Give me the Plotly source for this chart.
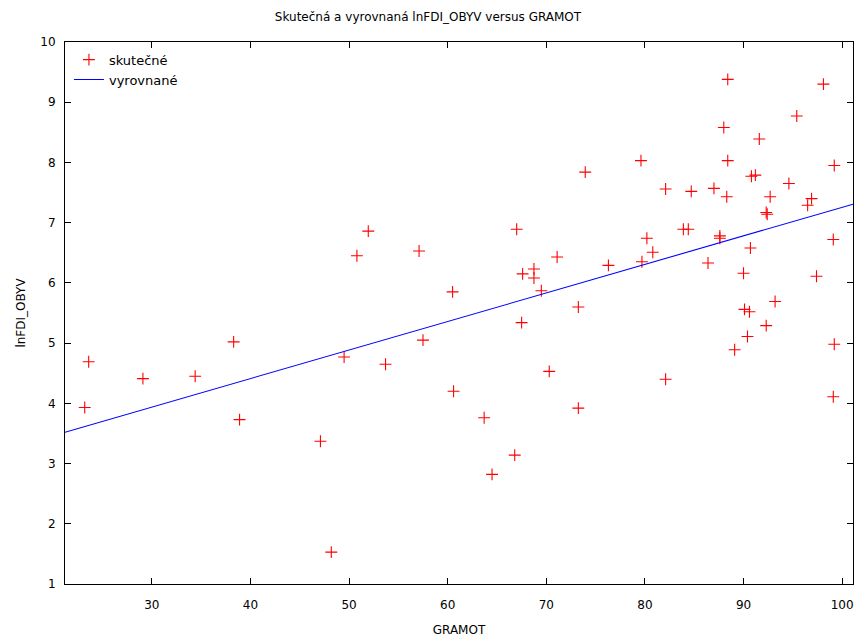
import plotly.graph_objects as go
import numpy as np

# Observed data (GRAMOT vs lnFDI_OBYV)
gramot = [23.2, 23.6, 29.1, 34.4, 38.3, 38.9, 47.1, 48.2, 49.5, 50.8,
          51.95, 53.7, 57.1, 57.5, 60.5, 60.6, 63.7, 64.5, 66.8, 67.0,
          67.6, 67.5, 68.75, 68.75, 69.5, 70.3, 71.1, 73.25, 73.25, 73.95,
          76.3, 79.6, 79.7, 80.2, 80.8, 82.1, 82.1, 83.9, 84.4, 84.7,
          86.4, 87.0, 87.6, 87.6, 88.0, 88.3, 88.4, 88.4, 89.1, 90.0,
          90.1, 90.4, 90.6, 90.7, 90.8, 91.2, 91.6, 92.3, 92.4, 92.3,
          92.7, 93.2, 94.6, 95.4, 96.5, 96.9, 97.4, 98.1, 99.1, 99.2,
          99.2, 99.1]
lnfdi = [3.93, 4.69, 4.41, 4.45, 5.02, 3.73, 3.37, 1.53, 4.77, 6.45,
         6.86, 4.65, 6.53, 5.05, 5.85, 4.20, 3.76, 2.82, 3.14, 6.89,
         6.15, 5.34, 6.23, 6.08, 5.87, 4.53, 6.43, 5.60, 3.92, 7.84,
         6.29, 8.03, 6.35, 6.74, 6.51, 7.56, 4.40, 6.89, 6.89, 7.52,
         6.33, 7.57, 6.78, 6.74, 8.58, 7.43, 9.38, 8.03, 4.89, 6.16,
         5.56, 5.11, 5.52, 6.58, 7.77, 7.79, 8.39, 7.17, 7.14, 5.29,
         7.43, 5.69, 7.65, 8.77, 7.29, 7.40, 6.11, 9.30, 6.72, 7.95,
         4.98, 4.11]

# Fitted line coefficients
fit_intercept = 2.515
fit_slope = 0.0474

x_range = [21.2, 101.1]
y_range = [1, 10]
x_ticks = [30, 40, 50, 60, 70, 80, 90, 100]
y_ticks = [1, 2, 3, 4, 5, 6, 7, 8, 9, 10]

fit_x = np.array(x_range)
fit_y = fit_intercept + fit_slope * fit_x

font = "DejaVu Sans, Verdana, sans-serif"

fig = go.Figure()
fig.add_trace(go.Scatter(
    x=gramot, y=lnfdi, mode="markers", name="skutečné",
    marker=dict(symbol="cross-thin-open", size=8.5,
                line=dict(color="#ff0000", width=1.1), color="#ff0000"),
))
fig.add_trace(go.Scatter(
    x=fit_x, y=fit_y, mode="lines", name="vyrovnané",
    line=dict(color="#0000ff", width=1.1),
))

axis_common = dict(
    showgrid=False, zeroline=False, showline=True, linecolor="black",
    linewidth=1, mirror="ticks", ticks="inside", ticklen=6,
    tickcolor="black", tickfont=dict(family=font, size=12, color="black"),
)

fig.update_layout(
    width=856, height=639,
    margin=dict(l=65, r=3, t=42, b=55),
    paper_bgcolor="white", plot_bgcolor="white",
    font=dict(family=font, size=12, color="black"),
    title=dict(text="Skutečná a vyrovnaná lnFDI_OBYV versus GRAMOT",
               x=0.5, xanchor="center", y=0.973, yanchor="middle",
               font=dict(family=font, size=12)),
    xaxis=dict(range=x_range, tickvals=x_ticks, ticklabelstandoff=10,
               title=dict(text="GRAMOT", standoff=14,
                          font=dict(family=font, size=12)),
               **axis_common),
    yaxis=dict(range=y_range, tickvals=y_ticks, ticklabelstandoff=6,
               title=dict(text="lnFDI_OBYV", standoff=12,
                          font=dict(family=font, size=12)),
               **axis_common),
    legend=dict(x=0.005, y=0.995, xanchor="left", yanchor="top",
                bgcolor="rgba(0,0,0,0)", borderwidth=0,
                font=dict(family=font, size=13), tracegroupgap=0),
)

fig.write_html("out.html")
